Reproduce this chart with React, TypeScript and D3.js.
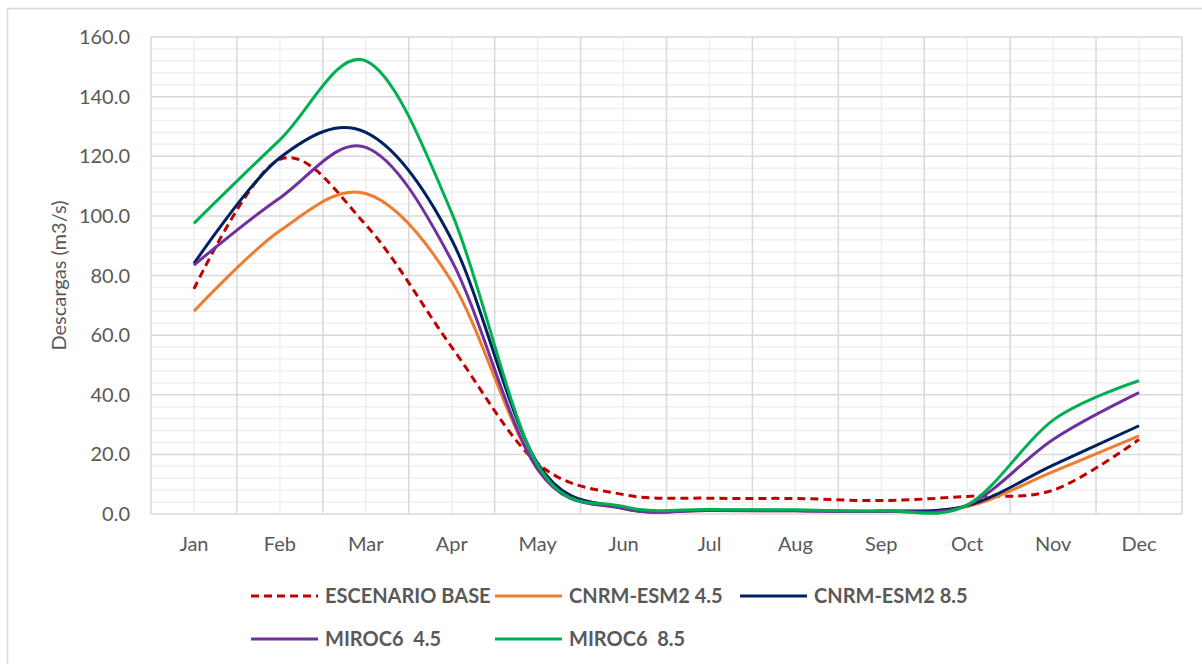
import React from "react";
import * as d3 from "d3";

const months = ["Jan", "Feb", "Mar", "Apr", "May", "Jun", "Jul", "Aug", "Sep", "Oct", "Nov", "Dec"];
const escenarioBase = [75.5, 119, 97, 56, 17, 6.5, 5.3, 5.2, 4.5, 5.9, 8, 25];
const cnrm45 = [68, 95, 107.5, 78, 15.5, 1.8, 1.2, 1.1, 0.9, 2.5, 14.2, 26.2];
const cnrm85 = [84, 119.5, 128, 92, 17, 2, 1.3, 1.2, 1.0, 2.8, 16.4, 29.6];
const miroc45 = [83.5, 106, 123, 85, 15, 1.8, 1.2, 1.1, 0.9, 3, 25, 40.7];
const miroc85 = [97.5, 125.5, 152, 101, 16.5, 2.5, 1.5, 1.4, 1.1, 3, 31.5, 44.7];
const yTicks = [0, 20, 40, 60, 80, 100, 120, 140, 160];

const seriesNames = ["ESCENARIO BASE", "CNRM-ESM2 4.5", "CNRM-ESM2 8.5", "MIROC6  4.5", "MIROC6  8.5"];
const seriesColors = ["#C00000", "#ED7D31", "#002060", "#7030A0", "#00B050"];
const seriesData = [escenarioBase, cnrm45, cnrm85, miroc45, miroc85];

export default function App() {
  const W = 1202, H = 664;
  const left = 151, right = 1182, top = 37, bottom = 514;
  const x = d3.scaleBand<string>().domain(months).range([left, right]).paddingInner(0).paddingOuter(0);
  const bw = x.bandwidth();
  const cx = (m: string) => (x(m) as number) + bw / 2;
  const y = d3.scaleLinear().domain([0, 160]).range([bottom, top]);

  const minorY = d3.range(0, 161, 4).filter((v) => v % 20 !== 0);
  const boundaries = d3.range(0, months.length + 1).map((i) => left + i * bw);

  const line = d3
    .line<number>()
    .x((_, i) => cx(months[i]))
    .y((d) => y(d))
    .curve(d3.curveCardinal.tension(0));

  const textColor = "#595959";
  const font = "Lato, 'Open Sans', sans-serif";

  const legendItems = [
    { i: 0, lx: 251, ly: 596 },
    { i: 1, lx: 495, ly: 596 },
    { i: 2, lx: 740, ly: 596 },
    { i: 3, lx: 251, ly: 639 },
    { i: 4, lx: 495, ly: 639 },
  ];

  return (
    <svg width={W} height={H} style={{ position: "absolute", left: 0, top: 0, background: "#fff" }}>
      <rect x={7.5} y={8.5} width={1200} height={680} fill="#fff" stroke="#d9d9d9" strokeWidth={1.5} />
      {/* minor grid */}
      {minorY.map((v) => (
        <line key={"my" + v} x1={left} x2={right} y1={y(v)} y2={y(v)} stroke="#efefef" strokeWidth={1.5} />
      ))}
      {months.map((m) => (
        <line key={"mx" + m} x1={cx(m)} x2={cx(m)} y1={top} y2={bottom} stroke="#efefef" strokeWidth={1.5} />
      ))}
      {/* major grid */}
      {yTicks.map((v) => (
        <line key={"gy" + v} x1={left} x2={right} y1={y(v)} y2={y(v)} stroke="#d9d9d9" strokeWidth={1.5} />
      ))}
      {boundaries.map((bx, i) => (
        <line key={"gx" + i} x1={bx} x2={bx} y1={top} y2={bottom} stroke="#d9d9d9" strokeWidth={1.5} />
      ))}
      {/* y tick labels */}
      {yTicks.map((v) => (
        <text key={"ty" + v} x={130} y={y(v)} dy="0.35em" textAnchor="end" fontFamily={font} fontSize={20} fill={textColor}>
          {v.toFixed(1)}
        </text>
      ))}
      {/* x tick labels */}
      {months.map((m) => (
        <text key={"tx" + m} x={cx(m)} y={551} textAnchor="middle" fontFamily={font} fontSize={20} fill={textColor}>
          {m}
        </text>
      ))}
      <text
        transform={`translate(66, ${(top + bottom) / 2}) rotate(-90)`}
        textAnchor="middle"
        fontFamily={font}
        fontSize={20}
        fill={textColor}
      >
        Descargas (m3/s)
      </text>
      {/* series */}
      {seriesData.map((data, i) => (
        <path
          key={"s" + i}
          d={line(data) as string}
          fill="none"
          stroke={seriesColors[i]}
          strokeWidth={3}
          strokeDasharray={i === 0 ? "8,5" : undefined}
          strokeLinecap="butt"
        />
      ))}
      {/* legend */}
      {legendItems.map(({ i, lx, ly }) => (
        <g key={"lg" + i}>
          <line
            x1={lx}
            x2={lx + 67}
            y1={ly}
            y2={ly}
            stroke={seriesColors[i]}
            strokeWidth={3}
            strokeDasharray={i === 0 ? "8,5" : undefined}
          />
          <text x={lx + 74} y={ly} dy="0.35em" fontFamily={font} fontWeight={700} fontSize={20} fill={textColor} style={{ whiteSpace: "pre" }}>
            {seriesNames[i]}
          </text>
        </g>
      ))}
    </svg>
  );
}
